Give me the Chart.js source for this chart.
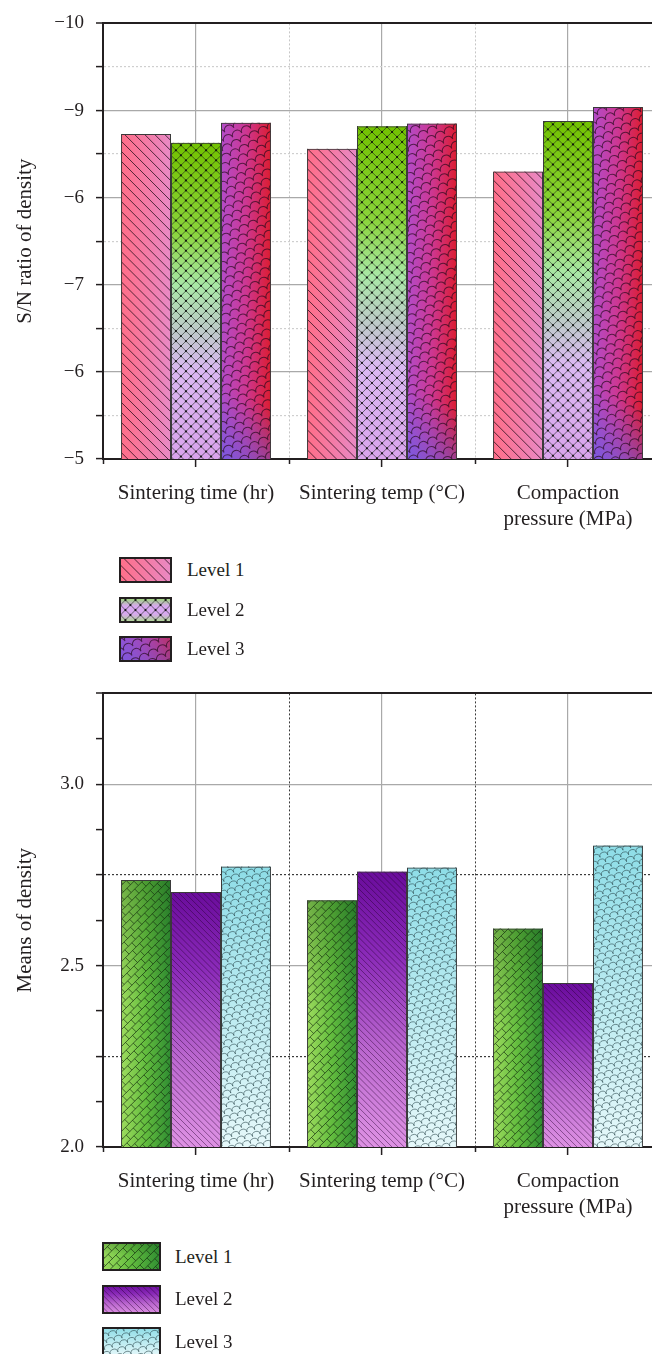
<!DOCTYPE html>
<html>
<head>
<meta charset="utf-8">
<script src="https://cdn.jsdelivr.net/npm/chart.js@4.4.0/dist/chart.umd.min.js"></script>
<style>
  html, body { margin: 0; padding: 0; background: #fff; width: 652px; height: 1354px; overflow: hidden; }
  .wrap { position: absolute; left: 0; }
  .legend { position: absolute; left: 0; top: 0; font-family: "Liberation Serif", "Times New Roman", serif; font-size: 19px; color: #231f20; }
  .legend .item { position: absolute; display: flex; align-items: center; white-space: nowrap; }
</style>
</head>
<body>
<div class="wrap" style="top:0;width:668px;height:545px"><canvas id="chart-sn"></canvas></div>
<div class="legend" id="legend-sn"></div>
<div class="wrap" style="top:670px;width:668px;height:560px"><canvas id="chart-means"></canvas></div>
<div class="legend" id="legend-means"></div>

<script>
// ── data ─────────────────────────────────────────
const categories = ['Sintering time (hr)', 'Sintering temp (°C)', ['Compaction', 'pressure (MPa)']];
const levelNames = ['Level 1', 'Level 2', 'Level 3'];

// S/N ratio of density (axis runs -10 at top to -5 at bottom)
const snLevel1 = [-8.73, -8.56, -8.30];
const snLevel2 = [-8.63, -8.82, -8.88];
const snLevel3 = [-8.86, -8.85, -9.04];
const snTickLabels = ['−10', '−9', '−6', '−7', '−6', '−5']; // as printed, for -10 .. -5

// Means of density
const meansLevel1 = [2.736, 2.680, 2.602];
const meansLevel2 = [2.703, 2.759, 2.452];
const meansLevel3 = [2.773, 2.770, 2.831];
const meansTickLabels = ['2.0', '2.5', '3.0'];

const FONT = '"Liberation Serif", "Times New Roman", serif';
const INK = '#231f20';

// ── fills (gradient + hatch) ─────────────────────
function grad(ctx, x0, y0, x1, y1, stops) {
  const g = ctx.createLinearGradient(x0, y0, x1, y1);
  stops.forEach(([o, c]) => g.addColorStop(o, c));
  return g;
}

function inFrame(ctx, x, y, w, h, angle, fn) {
  ctx.save();
  ctx.translate(x + w / 2, y + h / 2);
  ctx.rotate(angle);
  fn(Math.hypot(w, h) / 2 + 12);
  ctx.restore();
}

function hatch(ctx, x, y, w, h, angle, gap, color, lw) {
  inFrame(ctx, x, y, w, h, angle, r => {
    const n = Math.ceil(r / gap);
    ctx.strokeStyle = color; ctx.lineWidth = lw;
    ctx.beginPath();
    for (let i = -n; i <= n; i++) { ctx.moveTo(-r, i * gap); ctx.lineTo(r, i * gap); }
    ctx.stroke();
  });
}

function crossDots(ctx, x, y, w, h, gap, color, dot) {
  inFrame(ctx, x, y, w, h, Math.PI / 4, r => {
    const n = Math.ceil(r / gap);
    ctx.strokeStyle = color; ctx.lineWidth = 0.9;
    ctx.beginPath();
    for (let i = -n; i <= n; i++) {
      ctx.moveTo(-r, i * gap); ctx.lineTo(r, i * gap);
      ctx.moveTo(i * gap, -r); ctx.lineTo(i * gap, r);
    }
    ctx.stroke();
    ctx.fillStyle = dot;
    for (let i = -n; i <= n; i++) {
      for (let j = -n; j <= n; j++) {
        ctx.beginPath(); ctx.arc(i * gap, j * gap, 1.1, 0, Math.PI * 2); ctx.fill();
      }
    }
  });
}

function scales(ctx, x, y, w, h, angle, gap, rowGap, color, lw) {
  inFrame(ctx, x, y, w, h, angle, r => {
    ctx.strokeStyle = color; ctx.lineWidth = lw;
    const nr = Math.ceil(r / rowGap), nc = Math.ceil(r / gap) + 1;
    for (let j = -nr; j <= nr; j++) {
      const off = (j & 1) ? gap / 2 : 0;
      ctx.beginPath();
      for (let i = -nc; i <= nc; i++) {
        const cx = i * gap + off, cy = j * rowGap;
        ctx.moveTo(cx + gap / 2, cy);
        ctx.arc(cx, cy, gap / 2, 0, Math.PI, true);
      }
      ctx.stroke();
    }
  });
}

function bricks(ctx, x, y, w, h, angle, len, rowGap, color, lw) {
  inFrame(ctx, x, y, w, h, angle, r => {
    ctx.strokeStyle = color; ctx.lineWidth = lw;
    const nr = Math.ceil(r / rowGap), nc = Math.ceil(r / len) + 1;
    ctx.beginPath();
    for (let j = -nr; j <= nr; j++) {
      ctx.moveTo(-r, j * rowGap); ctx.lineTo(r, j * rowGap);
      const off = (j & 1) ? len / 2 : 0;
      for (let i = -nc; i <= nc; i++) {
        ctx.moveTo(i * len + off, j * rowGap);
        ctx.lineTo(i * len + off, (j + 1) * rowGap);
      }
    }
    ctx.stroke();
  });
}

function paintFill(ctx, kind, x, y, w, h) {
  const small = h < 40;
  ctx.save();
  ctx.beginPath(); ctx.rect(x, y, w, h); ctx.clip();
  switch (kind) {
    case 'pinkHatch':
      ctx.fillStyle = grad(ctx, x, 0, x + w, 0, [[0, '#ff6e88'], [0.55, '#f37ca8'], [1, '#e88ac6']]);
      ctx.fillRect(x, y, w, h);
      hatch(ctx, x, y, w, h, Math.PI / 4, 7.1, 'rgba(35,10,25,0.8)', 0.9);
      break;
    case 'greenCross':
      ctx.fillStyle = small
        ? grad(ctx, 0, y, 0, y + h, [[0, '#8ee060'], [0.35, '#d8a8f0'], [0.65, '#d8a8f0'], [1, '#a6e080']])
        : grad(ctx, 0, y, 0, y + h, [[0, '#72c200'], [0.28, '#8ad43a'], [0.45, '#a9e8a6'], [0.6, '#bfc9cb'], [0.72, '#dbb8f2'], [1, '#d9a3ec']]);
      ctx.fillRect(x, y, w, h);
      crossDots(ctx, x, y, w, h, 7.1, 'rgba(25,35,25,0.62)', 'rgba(10,10,10,0.85)');
      break;
    case 'redScale':
      ctx.fillStyle = grad(ctx, x, 0, x + w, 0, [[0, '#b24cca'], [0.5, '#cd3792'], [1, '#dc1c30']]);
      ctx.fillRect(x, y, w, h);
      ctx.fillStyle = grad(ctx, x, y + h, x + w, y + h - 2.5 * w, [[0, 'rgba(95,95,235,0.65)'], [0.5, 'rgba(95,95,235,0)']]);
      ctx.fillRect(x, y, w, h);
      scales(ctx, x, y, w, h, -0.45, 10, 8, 'rgba(40,10,30,0.7)', 1);
      break;
    case 'greenBrick':
      ctx.fillStyle = grad(ctx, x, 0, x + w, 0, [[0, '#9edc5e'], [0.5, '#62bc3e'], [1, '#2f8c32']]);
      ctx.fillRect(x, y, w, h);
      ctx.fillStyle = grad(ctx, 0, y, 0, y + h, [[0, 'rgba(20,80,20,0.3)'], [0.45, 'rgba(20,80,20,0)']]);
      ctx.fillRect(x, y, w, h);
      bricks(ctx, x, y, w, h, -Math.PI / 4, 10, 6, 'rgba(20,45,15,0.7)', 0.9);
      break;
    case 'purpleHatch':
      ctx.fillStyle = grad(ctx, 0, y, 0, y + h, [[0, '#6a0c9c'], [0.3, '#8a2ab8'], [0.65, '#bb68cf'], [1, '#de92e4']]);
      ctx.fillRect(x, y, w, h);
      hatch(ctx, x, y, w, h, Math.PI / 4, 4.3, 'rgba(40,0,50,0.55)', 0.8);
      break;
    case 'cyanWave':
      ctx.fillStyle = grad(ctx, 0, y, 0, y + h, [[0, '#8edde7'], [1, '#e6f8fa']]);
      ctx.fillRect(x, y, w, h);
      scales(ctx, x, y, w, h, -0.3, 8, 6, 'rgba(40,70,75,0.6)', 0.9);
      break;
  }
  ctx.restore();
}

// paints each bar's gradient+pattern under the library's own bar outline
const fillPlugin = {
  id: 'patternFill',
  beforeDatasetsDraw(chart) {
    const ctx = chart.ctx;
    const area = chart.chartArea;
    const clampY = v => Math.max(area.top, Math.min(area.bottom, v));
    ctx.save();
    ctx.beginPath(); ctx.rect(area.left, area.top, area.width, area.height); ctx.clip();
    chart.data.datasets.forEach((ds, i) => {
      chart.getDatasetMeta(i).data.forEach(bar => {
        const { x, y, base, width } = bar.getProps(['x', 'y', 'base', 'width'], true);
        const y0 = clampY(y), y1 = clampY(base); // base sits at value 0, outside the axis range
        paintFill(ctx, ds.fillKind, x - width / 2, Math.min(y0, y1), width, Math.abs(y1 - y0));
      });
    });
    ctx.restore();
  }
};

function dataset(label, data, fillKind) {
  return {
    label, data, fillKind,
    backgroundColor: 'rgba(0,0,0,0)',
    borderColor: '#3a3a3a',
    borderWidth: 1,
    borderSkipped: false,
    categoryPercentage: 0.806,
    barPercentage: 1
  };
}

function makeChart(id, opt) {
  return new Chart(document.getElementById(id), {
    type: 'bar',
    data: { labels: categories, datasets: opt.datasets },
    options: {
      responsive: true,
      maintainAspectRatio: false,
      animation: false,
      layout: { padding: { top: opt.padTop, right: 7, left: 0, bottom: 0 } },
      plugins: { legend: { display: false }, tooltip: { enabled: false } },
      scales: {
        x2: {
          axis: 'x', type: 'category', position: 'bottom', weight: 0, offset: true,
          grid: { offset: false, color: '#a9a9a9', lineWidth: 1.2, tickLength: 8, tickColor: INK, tickWidth: 1.5 },
          border: { display: false },
          ticks: { display: false },
          afterFit: s => { s.height = 0; }
        },
        x: {
          type: 'category', position: 'bottom', weight: 1, offset: true,
          grid: {
            offset: true,
            color: c => c.index === 0 ? 'rgba(0,0,0,0)' : opt.xDotColor,
            lineWidth: 1, tickLength: 5, tickColor: INK, tickWidth: 1.5
          },
          border: { color: INK, width: 2, dash: c => c.tick ? [2, 2] : [] },
          ticks: {
            color: INK, padding: 16, maxRotation: 0, autoSkip: false,
            font: { family: FONT, size: 21, lineHeight: 1.26 }
          },
          afterFit: s => { s.height = opt.xHeight; }
        },
        y: Object.assign({
          beginAtZero: false,
          ticks: {
            stepSize: opt.step, autoSkip: false, padding: 12, color: INK,
            font: { family: FONT, size: 19 }, callback: opt.tickLabel
          },
          grid: { color: opt.gridColor, lineWidth: opt.gridWidth, tickLength: 7, tickColor: INK, tickWidth: 1.5 },
          border: { color: INK, width: 2, dash: opt.gridDash },
          title: { display: true, text: opt.title, color: INK, font: { family: FONT, size: 21, lineHeight: 1.2 }, padding: { top: 13, bottom: 0 } },
          afterFit: s => { s.width = 103; }
        }, opt.range)
      }
    },
    plugins: [fillPlugin]
  });
}

function buildLegend(chart, el, o) {
  chart.data.datasets.forEach((ds, i) => {
    const item = document.createElement('div');
    item.className = 'item';
    item.style.left = o.left + 'px';
    item.style.top = (o.top + i * o.step) + 'px';
    const cv = document.createElement('canvas');
    cv.width = o.w; cv.height = o.h;
    cv.style.cssText = `width:${o.w}px;height:${o.h}px;display:block`;
    const c = cv.getContext('2d');
    paintFill(c, ds.fillKind, 0, 0, o.w, o.h);
    c.strokeStyle = INK; c.lineWidth = 2; c.strokeRect(1, 1, o.w - 2, o.h - 2);
    const label = document.createElement('span');
    label.textContent = ds.label;
    label.style.marginLeft = o.gap + 'px';
    item.append(cv, label);
    el.appendChild(item);
  });
}

// ── chart 1: S/N ratio ───────────────────────────
const isInt = v => Math.abs(v - Math.round(v)) < 1e-9;
const snChart = makeChart('chart-sn', {
  datasets: [
    dataset(levelNames[0], snLevel1, 'pinkHatch'),
    dataset(levelNames[1], snLevel2, 'greenCross'),
    dataset(levelNames[2], snLevel3, 'redScale')
  ],
  padTop: 14, xHeight: 86, step: 0.5,
  range: { min: -10, max: -5, reverse: true },
  title: 'S/N ratio of density',
  xDotColor: '#c6c6c6',
  tickLabel: v => isInt(v) ? snTickLabels[Math.round(v) + 10] : '',
  gridColor: c => {
    const v = c.tick ? c.tick.value : -7;
    if (v === -10 || v === -5) return INK;
    return isInt(v) ? '#a9a9a9' : '#cfcfcf';
  },
  gridWidth: c => (c.tick && c.tick.value === -10) ? 2 : 1.2,
  gridDash: c => (c.tick && !isInt(c.tick.value)) ? [2, 2] : []
});

// ── chart 2: means ───────────────────────────────
const meansChart = makeChart('chart-means', {
  datasets: [
    dataset(levelNames[0], meansLevel1, 'greenBrick'),
    dataset(levelNames[1], meansLevel2, 'purpleHatch'),
    dataset(levelNames[2], meansLevel3, 'cyanWave')
  ],
  padTop: 19, xHeight: 83, step: 0.125,
  range: { min: 2, max: 3.25 },
  title: 'Means of density',
  xDotColor: '#3a3a3a',
  tickLabel: v => {
    const k = (v - 2) * 2;
    return isInt(k) && k <= 2 ? meansTickLabels[Math.round(k)] : '';
  },
  gridColor: c => {
    const v = c.tick ? c.tick.value : 0;
    if (v === 3.25 || v === 2) return INK;
    if (v === 2.5 || v === 3) return '#a9a9a9';
    if (v === 2.25 || v === 2.75) return '#3a3a3a';
    return 'rgba(0,0,0,0)';
  },
  gridWidth: c => (c.tick && c.tick.value === 3.25) ? 2 : 1.2,
  gridDash: c => (c.tick && (c.tick.value === 2.25 || c.tick.value === 2.75)) ? [2, 2] : []
});

buildLegend(snChart, document.getElementById('legend-sn'), { left: 119, top: 557, step: 39.5, w: 53, h: 26, gap: 15 });
buildLegend(meansChart, document.getElementById('legend-means'), { left: 102, top: 1242, step: 42.5, w: 59, h: 29, gap: 14 });
</script>
</body>
</html>
